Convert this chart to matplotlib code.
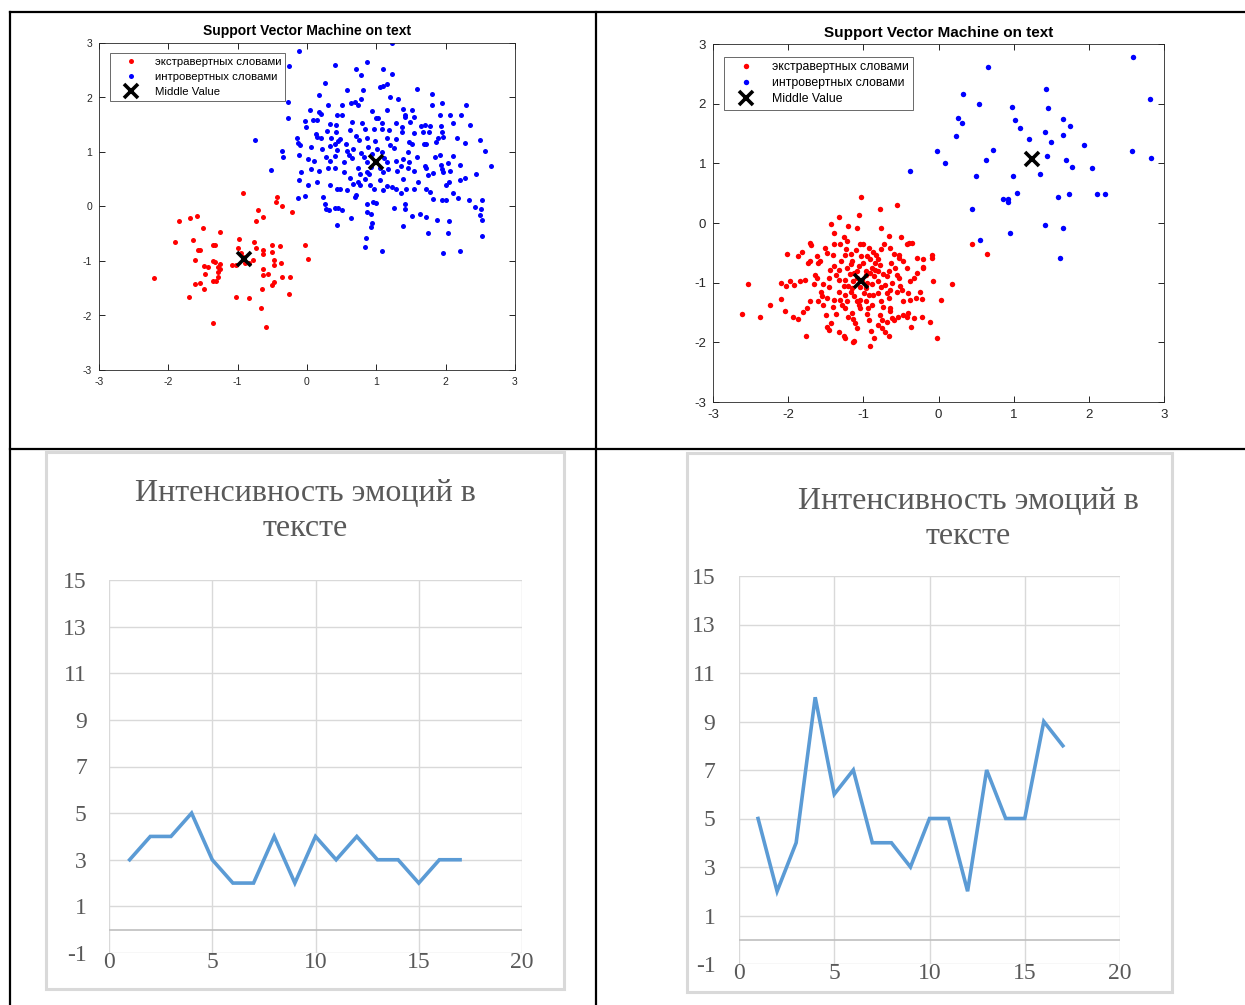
import matplotlib.pyplot as plt
from matplotlib.lines import Line2D
from matplotlib.patches import Rectangle

W, H = 1245, 1005

# ---- top-left SVM panel ----
tl_red = [(-2.21, -1.32), (-1.84, -0.26), (-1.69, -0.22), (-1.58, -0.18), (-1.90, -0.65), (-1.50, -0.40),
          (-1.64, -0.61), (-1.57, -0.80), (-1.54, -0.80), (-1.61, -0.98), (-1.49, -1.09), (-1.43, -1.11),
          (-1.47, -1.23), (-1.70, -1.66), (-1.61, -1.43), (-1.55, -1.40), (-1.49, -1.51), (-1.36, -2.13),
          (-1.35, -0.71), (-1.32, -0.70), (-1.26, -0.47), (-1.35, -1.00), (-1.32, -1.01), (-1.29, -1.11),
          (-1.26, -1.06), (-1.25, -1.14), (-1.28, -1.20), (-1.35, -1.36), (-1.31, -1.36), (-1.29, -1.29),
          (-1.08, -1.08), (-1.03, -1.08), (-0.98, -0.59), (-0.99, -0.77), (-0.93, 0.24), (-0.95, -0.86),
          (-0.90, -1.04), (-0.84, -1.04), (-0.78, -0.98), (-0.77, -0.66), (-0.73, -0.77), (-0.71, -0.07),
          (-0.73, -0.26), (-0.63, -0.19), (-0.64, -0.80), (-0.63, -0.88), (-0.64, -1.14), (-0.63, -1.25),
          (-0.65, -1.52), (-0.66, -1.87), (-0.59, -2.22), (-1.02, -1.66), (-0.84, -1.67), (-0.51, -0.71),
          (-0.50, -0.84), (-0.47, -0.98), (-0.48, -1.08), (-0.56, -1.23), (-0.50, -1.44), (-0.48, -1.39),
          (-0.39, -0.73), (-0.38, -1.04), (-0.36, -1.29), (-0.26, -1.61), (-0.24, -1.30), (-0.43, 0.18),
          (-0.44, 0.09), (-0.36, 0.01), (-0.21, -0.10), (-0.03, -0.71), (0.02, -0.97), (-0.93, -0.93)]
tl_blue = [(1.22, 3.00), (-0.12, 2.85), (-0.26, 2.57), (0.86, 2.66), (0.40, 2.59), (0.70, 2.53), (1.10, 2.52),
           (1.22, 2.44), (0.78, 2.41), (0.26, 2.27), (1.10, 2.21), (1.16, 2.25), (1.05, 2.19), (1.59, 2.16),
           (0.58, 2.13), (0.81, 2.13), (0.18, 2.05), (1.19, 2.01), (1.31, 1.98), (0.78, 1.97), (-0.27, 1.92),
           (1.80, 2.06), (1.80, 1.87), (1.94, 1.89), (2.30, 1.87), (0.30, 1.86), (0.50, 1.86), (0.64, 1.89),
           (0.69, 1.91), (0.73, 1.87), (0.05, 1.77), (0.18, 1.73), (0.20, 1.70), (0.51, 1.67), (0.43, 1.67),
           (0.94, 1.75), (1.15, 1.77), (1.39, 1.78), (1.52, 1.77), (1.41, 1.67), (1.42, 1.64), (1.55, 1.64),
           (1.92, 1.67), (2.06, 1.67), (2.22, 1.67), (-0.27, 1.62), (-0.03, 1.56), (0.08, 1.58), (0.15, 1.58),
           (0.33, 1.52), (0.42, 1.50), (0.65, 1.55), (0.80, 1.53), (0.99, 1.62), (1.03, 1.62), (1.08, 1.53),
           (1.29, 1.54), (1.37, 1.46), (1.49, 1.55), (1.64, 1.47), (1.70, 1.49), (1.77, 1.47), (1.93, 1.47),
           (2.11, 1.53), (2.35, 1.50), (-0.02, 1.46), (0.13, 1.33), (0.29, 1.38), (0.42, 1.37), (0.62, 1.40),
           (0.83, 1.43), (0.97, 1.43), (1.08, 1.42), (1.18, 1.40), (1.37, 1.36), (1.55, 1.35), (1.67, 1.36),
           (1.76, 1.36), (1.95, 1.36), (1.96, 1.28), (-0.15, 1.26), (-0.75, 1.22), (-0.13, 1.17), (0.15, 1.28),
           (0.20, 1.26), (0.35, 1.26), (0.45, 1.20), (0.48, 1.23), (0.56, 1.15), (0.75, 1.22), (0.86, 1.26),
           (0.98, 1.20), (1.15, 1.25), (1.28, 1.23), (1.47, 1.19), (1.51, 1.15), (1.69, 1.15), (1.86, 1.19),
           (1.89, 1.25), (2.17, 1.26), (2.28, 1.16), (2.49, 1.22), (2.57, 1.02), (-0.10, 1.12), (0.06, 1.09),
           (0.22, 1.05), (0.33, 1.11), (0.43, 1.03), (0.57, 1.01), (0.66, 1.06), (0.88, 1.09), (1.01, 1.05),
           (1.08, 1.00), (1.25, 1.08), (1.45, 1.00), (1.71, 1.14), (2.11, 0.93), (1.92, 0.94), (-0.36, 1.02),
           (-0.34, 0.90), (-0.11, 0.94), (0.01, 0.87), (0.10, 0.83), (0.28, 0.91), (0.33, 0.83), (0.41, 0.92),
           (0.54, 0.82), (0.65, 0.89), (0.78, 0.99), (0.82, 0.91), (0.86, 0.82), (0.94, 0.96), (1.11, 0.89),
           (1.16, 0.82), (1.28, 0.83), (1.38, 0.87), (1.47, 0.82), (1.58, 0.91), (1.70, 0.75), (1.72, 0.70),
           (1.93, 0.77), (2.04, 0.79), (2.21, 0.76), (2.66, 0.75), (2.44, 0.59), (-0.52, 0.67), (-0.09, 0.64),
           (0.06, 0.68), (0.18, 0.65), (0.30, 0.71), (0.41, 0.70), (0.53, 0.64), (0.62, 0.53), (0.73, 0.71),
           (0.76, 0.59), (0.86, 0.64), (0.93, 0.73), (1.06, 0.71), (1.10, 0.64), (1.17, 0.68), (1.30, 0.65),
           (1.38, 0.51), (1.46, 0.70), (1.54, 0.65), (1.75, 0.57), (1.82, 0.62), (1.96, 0.64), (2.06, 0.65),
           (2.20, 0.48), (2.28, 0.53), (1.94, 0.68), (-0.12, 0.48), (0.01, 0.39), (-0.03, 0.20), (-0.13, 0.15),
           (0.23, 0.18), (0.26, 0.05), (0.32, -0.07), (0.33, 0.39), (0.43, 0.33), (0.48, 0.33), (0.57, 0.30),
           (0.69, 0.18), (0.71, 0.21), (0.74, 0.45), (0.77, 0.39), (0.66, 0.42), (0.84, 0.51), (0.91, 0.39),
           (0.97, 0.32), (1.00, 0.07), (1.09, 0.30), (1.16, 0.38), (1.23, 0.36), (1.29, 0.33), (1.36, 0.24),
           (1.43, 0.32), (1.55, 0.33), (1.71, 0.33), (1.78, 0.27), (2.01, 0.40), (2.05, 0.45), (2.11, 0.24),
           (2.18, 0.16), (2.33, 0.12), (2.42, -0.01), (2.53, 0.12), (0.28, -0.04), (0.40, -0.02), (0.45, -0.02),
           (0.50, -0.07), (0.86, 0.05), (0.95, 0.09), (1.26, -0.02), (1.41, 0.05), (1.41, -0.05), (1.94, 0.12),
           (2.01, 0.12), (1.82, 0.13), (2.51, -0.04), (0.86, -0.11), (0.93, -0.13), (0.64, -0.22), (0.43, -0.34),
           (0.94, -0.31), (0.92, -0.37), (1.38, -0.35), (1.52, -0.17), (1.63, -0.14), (1.71, -0.20), (1.88, -0.25),
           (2.05, -0.27), (1.74, -0.49), (2.03, -0.48), (2.49, -0.15), (2.53, -0.25), (2.53, -0.54), (0.85, -0.57),
           (0.83, -0.75), (1.08, -0.82), (1.96, -0.85), (2.21, -0.82), (0.90, 0.60), (1.05, 0.48), (0.60, 0.95),
           (1.20, 1.12), (0.40, 1.15), (1.60, 0.45), (0.15, 0.45), (1.35, 0.75), (0.70, 1.30), (1.85, 0.90)]
tl_mid_x = [-0.91, 1.00]
tl_mid_y = [-0.97, 0.82]

# ---- top-right SVM panel ----
tr_red = [(-1.03, 0.44), (-0.55, 0.31), (-0.78, 0.23), (-1.33, 0.10), (-1.06, 0.13), (-1.43, -0.02), (-1.21, -0.05),
          (-1.09, -0.08), (-0.76, -0.08), (-1.39, -0.16), (-0.66, -0.22), (-1.26, -0.24), (-0.50, -0.24),
          (-1.71, -0.33), (-1.70, -0.37), (-2.02, -0.52), (-1.82, -0.48), (-1.87, -0.56), (-1.73, -0.67),
          (-1.71, -0.63), (-1.61, -0.56), (-1.57, -0.63), (-1.51, -0.42), (-1.48, -0.50), (-1.41, -0.53),
          (-1.39, -0.36), (-1.31, -0.36), (-1.22, -0.30), (-1.04, -0.35), (-1.01, -0.36), (-0.92, -0.42),
          (-0.87, -0.48), (-0.83, -0.53), (-0.77, -0.44), (-0.72, -0.36), (-0.65, -0.42), (-0.59, -0.52),
          (-0.52, -0.53), (-0.42, -0.36), (-0.39, -0.33), (-0.35, -0.34), (-0.29, -0.58), (-0.20, -0.60),
          (-0.09, -0.54), (-0.08, -0.58), (-0.20, -0.76), (-2.54, -1.03), (-2.61, -1.53), (-2.38, -1.58),
          (-2.24, -1.38), (-2.10, -1.01), (-2.10, -1.27), (-2.03, -1.06), (-1.98, -0.97), (-2.04, -1.47),
          (-1.94, -1.58), (-1.87, -1.61), (-1.92, -1.04), (-1.84, -0.98), (-1.78, -0.95), (-1.75, -1.43),
          (-1.80, -1.49), (-1.76, -1.90), (-1.66, -1.03), (-1.64, -0.87), (-1.62, -0.92), (-1.56, -1.15),
          (-1.53, -1.38), (-1.55, -1.23), (-1.50, -1.54), (-1.48, -1.74), (-1.46, -1.79), (-1.43, -1.68),
          (-1.40, -1.40), (-1.39, -1.29), (-1.46, -0.92), (-1.44, -0.78), (-1.39, -0.72), (-1.36, -0.87),
          (-1.33, -0.95), (-1.33, -1.15), (-1.31, -1.29), (-1.28, -1.37), (-1.33, -1.82), (-1.26, -1.90),
          (-1.24, -1.92), (-1.21, -1.57), (-1.24, -1.43), (-1.22, -1.31), (-1.25, -1.20), (-1.26, -1.06),
          (-1.24, -0.95), (-1.22, -0.75), (-1.17, -0.69), (-1.15, -0.63), (-1.18, -0.85), (-1.14, -0.98),
          (-1.15, -1.09), (-1.13, -1.23), (-1.15, -1.51), (-1.14, -1.61), (-1.11, -1.68), (-1.14, -1.99),
          (-1.12, -1.98), (-1.09, -1.76), (-1.06, -1.37), (-1.05, -1.29), (-1.05, -1.08), (-1.09, -0.92),
          (-1.09, -0.81), (-1.06, -0.72), (-1.03, -0.56), (-1.00, -0.67), (-0.97, -0.81), (-0.99, -1.17),
          (-0.96, -1.30), (-0.94, -1.43), (-0.95, -1.53), (-0.93, -1.62), (-0.91, -2.06), (-0.90, -1.81),
          (-0.86, -1.93), (-0.89, -1.37), (-0.87, -1.20), (-0.89, -1.03), (-0.86, -0.89), (-0.89, -0.75),
          (-0.84, -0.67), (-0.81, -0.61), (-0.78, -0.71), (-0.74, -0.85), (-0.80, -0.98), (-0.77, -1.08),
          (-0.80, -1.17), (-0.77, -1.31), (-0.74, -1.40), (-0.78, -1.54), (-0.75, -1.62), (-0.80, -1.71),
          (-0.75, -1.76), (-0.71, -1.82), (-0.66, -1.90), (-0.69, -1.66), (-0.64, -1.48), (-0.62, -1.60),
          (-0.59, -1.62), (-0.66, -1.26), (-0.64, -1.12), (-0.62, -1.01), (-0.69, -0.89), (-0.66, -0.80),
          (-0.63, -0.67), (-0.58, -0.76), (-0.53, -0.58), (-0.47, -0.63), (-0.53, -0.92), (-0.51, -1.06),
          (-0.55, -1.15), (-0.48, -1.13), (-0.54, -1.57), (-0.47, -1.54), (-0.42, -1.57), (-0.37, -1.75),
          (-0.40, -1.51), (-0.33, -1.60), (-0.32, -0.93), (-0.30, -1.26), (-0.24, -1.15), (-0.22, -1.27),
          (-0.20, -0.74), (-0.22, -1.57), (-0.11, -1.66), (-0.07, -0.98), (-0.02, -1.92), (0.03, -1.29),
          (0.18, -1.02), (-0.40, -1.17), (-0.38, -1.29), (-1.13, -0.84), (-1.02, -0.95), (-0.95, -1.01),
          (-0.96, -0.87), (-0.91, -0.84), (-0.84, -0.78), (-0.81, -0.81), (-0.71, -1.04), (-0.69, -1.17),
          (-1.17, -1.15), (-1.20, -1.06), (-0.97, -1.09), (-0.93, -1.20), (-1.04, -1.43), (-1.09, -1.31),
          (-1.60, -0.67), (-1.53, -1.03), (-1.46, -1.08), (-1.48, -1.26), (-1.37, -1.53), (-1.60, -1.30),
          (-1.71, -1.31), (-1.30, -0.64), (-1.33, -0.78), (-1.25, -0.53), (-1.23, -0.44), (-1.10, -0.46),
          (-1.17, -0.52), (-0.95, -0.56), (-0.91, -0.61), (-0.55, -0.87), (-0.42, -0.75), (-0.38, -0.98),
          (-0.29, -0.84), (-0.47, -1.31), (-0.64, -1.43), (0.45, -0.35), (0.64, -0.52)]
tr_blue = [(2.59, 2.79), (0.66, 2.62), (1.43, 2.24), (0.32, 2.17), (0.54, 2.00), (0.98, 1.94), (1.46, 1.92),
           (2.81, 2.08), (0.26, 1.76), (0.31, 1.68), (1.02, 1.72), (1.08, 1.59), (1.65, 1.74), (1.75, 1.62),
           (1.42, 1.52), (1.65, 1.48), (1.50, 1.35), (1.21, 1.40), (0.23, 1.45), (1.94, 1.30), (-0.02, 1.20),
           (0.73, 1.23), (0.09, 1.01), (0.63, 1.06), (1.45, 1.12), (1.69, 1.06), (2.58, 1.21), (2.83, 1.09),
           (-0.38, 0.87), (0.50, 0.79), (0.99, 0.79), (1.35, 0.82), (1.77, 0.94), (2.04, 0.92), (1.05, 0.50),
           (0.86, 0.40), (0.92, 0.40), (0.93, 0.35), (1.59, 0.43), (1.74, 0.48), (2.11, 0.49), (2.21, 0.49),
           (0.45, 0.23), (0.95, -0.17), (1.42, -0.04), (1.66, -0.08), (0.55, -0.28), (1.62, -0.58)]
tr_mid_x = [-1.03, 1.24]
tr_mid_y = [-0.98, 1.07]

legend_labels = ['экстравертных словами', 'интровертных словами', 'Middle Value']
svm_title = 'Support Vector Machine on text'

# ---- bottom line charts ----
steps = list(range(1, 18))
bl_values = [3, 4, 4, 5, 3, 2, 2, 4, 2, 4, 3, 4, 3, 3, 2, 3, 3]
br_values = [5, 2, 4, 10, 6, 7, 4, 4, 3, 5, 5, 2, 7, 5, 5, 9, 8]
line_title = 'Интенсивность эмоций в\nтексте'

plt.rcParams['font.family'] = ['Liberation Sans', 'DejaVu Sans']
plt.rcParams['axes.unicode_minus'] = False


def box(x0, y0, x1, y1):
    # pixel box -> figure rect
    return [x0 / W, 1 - y1 / H, (x1 - x0) / W, (y1 - y0) / H]


fig = plt.figure(figsize=(W / 100, H / 100), dpi=100)
fig.patch.set_facecolor('white')


def svm_panel(rect, red, blue, mid_x, mid_y, ms, tick_fs, title_fs, title_pad, leg_fs, leg_sp, leg_anchor):
    ax = fig.add_axes(rect)
    rx, ry = zip(*red)
    bx, by = zip(*blue)
    ax.plot(rx, ry, 'o', color='#ff0000', ms=ms, mec='none', label=legend_labels[0])
    ax.plot(bx, by, 'o', color='#0000ff', ms=ms, mec='none', label=legend_labels[1])
    ax.plot(mid_x, mid_y, 'x', color='black', ms=10.5, mew=2.6, label=legend_labels[2])
    ax.set_xlim(-3, 3)
    ax.set_ylim(-3, 3)
    ax.set_xticks(range(-3, 4))
    ax.set_yticks(range(-3, 4))
    ax.tick_params(direction='in', top=True, right=True, length=4, width=0.6,
                   labelsize=tick_fs, labelcolor='#262626', pad=5)
    for s in ax.spines.values():
        s.set_linewidth(0.6)
        s.set_color('#262626')
    ax.set_title(svm_title, fontsize=title_fs, fontweight='bold', pad=title_pad)
    leg = ax.legend(loc='upper left', bbox_to_anchor=leg_anchor, fontsize=leg_fs, frameon=True,
                    fancybox=False, edgecolor='#262626', borderaxespad=0, handlelength=3.0,
                    handletextpad=0.6, borderpad=0.35, labelspacing=leg_sp)
    leg.get_frame().set_linewidth(0.6)
    return ax


def line_panel(rect, values, tick_fs, ypad):
    ax = fig.add_axes(rect)
    ax.plot(steps, values, color='#5b9bd5', lw=2.6, solid_joinstyle='miter')
    ax.set_xlim(0, 20)
    ax.set_ylim(-1, 15)
    ax.set_xticks(range(0, 21, 5))
    ax.set_yticks(range(-1, 16, 2))
    ax.grid(True, color='#d9d9d9', lw=1)
    ax.axhline(0, color='#bfbfbf', lw=1.2)
    ax.set_axisbelow(True)
    for s in ax.spines.values():
        s.set_visible(False)
    ax.tick_params(axis='y', length=0, labelsize=tick_fs, labelcolor='#595959', pad=ypad)
    ax.tick_params(axis='x', length=0, labelsize=tick_fs, labelcolor='#595959', pad=-1)
    for lab in ax.get_xticklabels() + ax.get_yticklabels():
        lab.set_family('Liberation Serif')
    return ax


svm_panel(box(99, 43, 515, 370), tl_red, tl_blue, tl_mid_x, tl_mid_y, 3.6, 7.5, 10, 6, 8.2, 0.45, (0.026, 0.97))
svm_panel(box(713, 44, 1164, 402), tr_red, tr_blue, tr_mid_x, tr_mid_y, 3.9, 9.5, 11, 5, 8.8, 0.35, (0.024, 0.965))

line_panel(box(109, 580, 522, 953), bl_values, 17, 16)
line_panel(box(739, 576, 1120, 964), br_values, 17, 17)

fig.text(305 / W, 1 - 511 / H, line_title, ha='center', va='center', family='Liberation Serif',
         fontsize=23, color='#595959', linespacing=1.3)
fig.text(968 / W, 1 - 519 / H, line_title, ha='center', va='center', family='Liberation Serif',
         fontsize=23, color='#595959', linespacing=1.3)

# Excel chart-area frames
for x0, y0, x1, y1 in [(46, 452, 564, 989), (687, 453, 1172, 992)]:
    fig.add_artist(Rectangle((x0 / W, 1 - y1 / H), (x1 - x0) / W, (y1 - y0) / H,
                             transform=fig.transFigure, fill=False, ec='#d9d9d9', lw=2.2))

# table rules
for xs, ys in [([10, W], [12, 12]), ([10, W], [449, 449]), ([10, 10], [12, H]), ([596, 596], [12, H])]:
    fig.add_artist(Line2D([x / W for x in xs], [1 - y / H for y in ys], transform=fig.transFigure,
                          color='black', lw=1.6))

fig.savefig('out.png', dpi=100)
